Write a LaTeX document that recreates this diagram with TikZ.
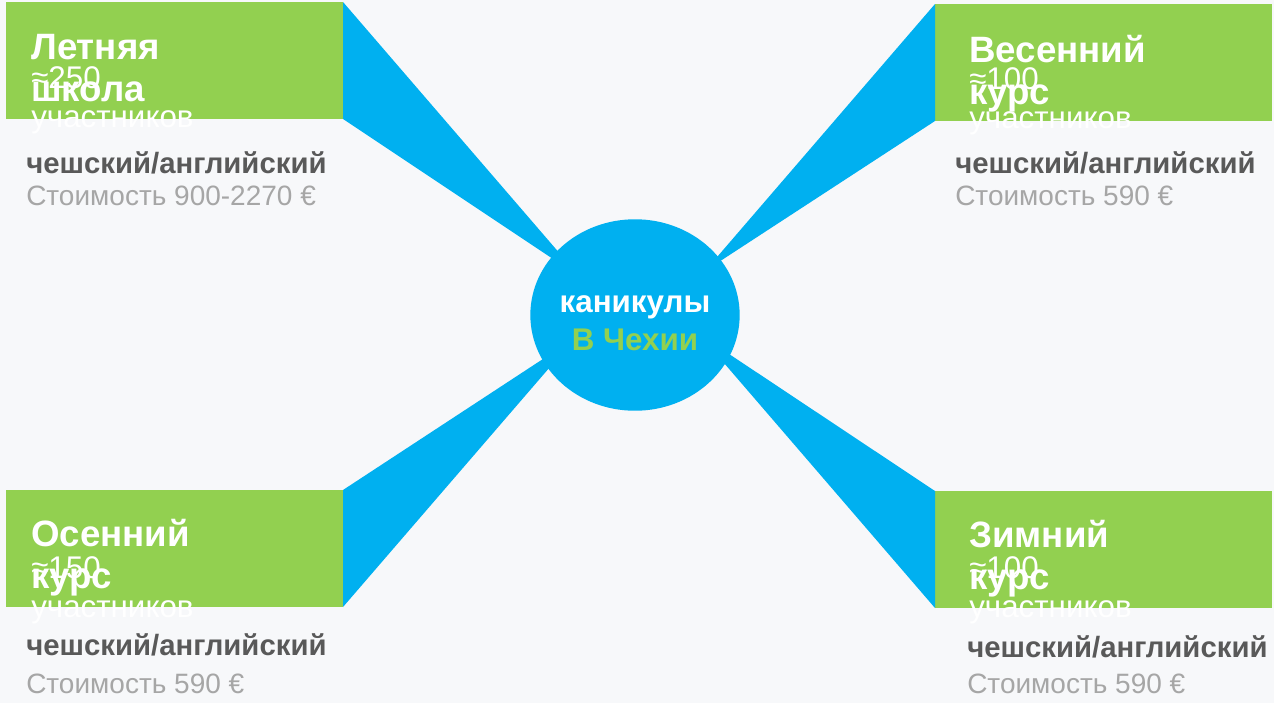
\documentclass[tikz,border=0pt]{standalone}
\usepackage{fontspec}
\setmainfont{Liberation Sans}
\usetikzlibrary{shapes.geometric}
\definecolor{leaf}{HTML}{92D050}
\definecolor{sky}{HTML}{00B0F0}
\definecolor{paper}{HTML}{F7F8FA}
\definecolor{ink}{HTML}{595959}
\definecolor{mist}{HTML}{A6A6A6}
\begin{document}
\begin{tikzpicture}[
    x=0.75pt, y=-0.75pt,
    season/.style={fill=leaf, minimum width=252.75pt, minimum height=87.75pt,
                   inner sep=0pt, outer sep=0pt, anchor=north west},
    title/.style={text=white, anchor=base west, inner sep=0pt, align=left,
                  font=\fontsize{27.5}{31.5}\selectfont\bfseries},
    count/.style={text=white, anchor=base west, inner sep=0pt, align=left,
                  font=\fontsize{23.5}{29.25}\selectfont},
    lang/.style={text=ink, anchor=base west, inner sep=0pt,
                 font=\fontsize{22}{26}\selectfont\bfseries},
    cost/.style={text=mist, anchor=base west, inner sep=0pt,
                 font=\fontsize{21}{25}\selectfont},
    hub/.style={ellipse, fill=sky, minimum width=157pt, minimum height=143.6pt,
                inner sep=0pt},
    hubtext/.style={text=white, anchor=base, inner sep=0pt, align=center,
                    font=\fontsize{23.5}{28.5}\selectfont\bfseries},
    ray/.style={fill=sky}
  ]
    \fill[paper] (0,0) rectangle (1274,703);

    \node[season] (summer) at (6,2)     {};
    \node[season] (spring) at (935,4)   {};
    \node[season] (autumn) at (6,490)   {};
    \node[season] (winter) at (935,491) {};

    \coordinate (summertip) at (580,277);
    \coordinate (springtip) at (705,271);
    \coordinate (autumntip) at (575,338);
    \coordinate (wintertip) at (699,334);

    \fill[ray] (summer.north east) -- (summer.south east) -- (summertip) -- cycle;
    \fill[ray] (spring.north west) -- (spring.south west) -- (springtip) -- cycle;
    \fill[ray] (autumn.north east) -- (autumn.south east) -- (autumntip) -- cycle;
    \fill[ray] (winter.north west) -- (winter.south west) -- (wintertip) -- cycle;

    \node[hub] (hub) at (635,315) {};
    \node[hubtext] (hubtxt) at (635,350) {каникулы\\\textcolor{leaf}{В Чехии}};

    \node[title] (summertitle) at (31,101.5) {Летняя\\школа};
    \node[count] (summercount) at (31,127)   {≈250\\участников};
    \node[lang]  (summerlang)  at (26,173)   {чешский/английский};
    \node[cost]  (summercost)  at (26,205)   {Стоимость 900-2270 €};

    \node[title] (springtitle) at (969,104.5) {Весенний\\курс};
    \node[count] (springcount) at (969,128)   {≈100\\участников};
    \node[lang]  (springlang)  at (955,173)   {чешский/английский};
    \node[cost]  (springcost)  at (955,205)   {Стоимость 590 €};

    \node[title] (autumntitle) at (31,588.5) {Осенний\\курс};
    \node[count] (autumncount) at (31,617)   {≈150\\участников};
    \node[lang]  (autumnlang)  at (26,655)   {чешский/английский};
    \node[cost]  (autumncost)  at (26,693)   {Стоимость 590 €};

    \node[title] (wintertitle) at (969,589.5) {Зимний\\курс};
    \node[count] (wintercount) at (969,617)   {≈100\\участников};
    \node[lang]  (winterlang)  at (967,657)   {чешский/английский};
    \node[cost]  (wintercost)  at (967,693)   {Стоимость 590 €};
  \end{tikzpicture}
\end{document}
